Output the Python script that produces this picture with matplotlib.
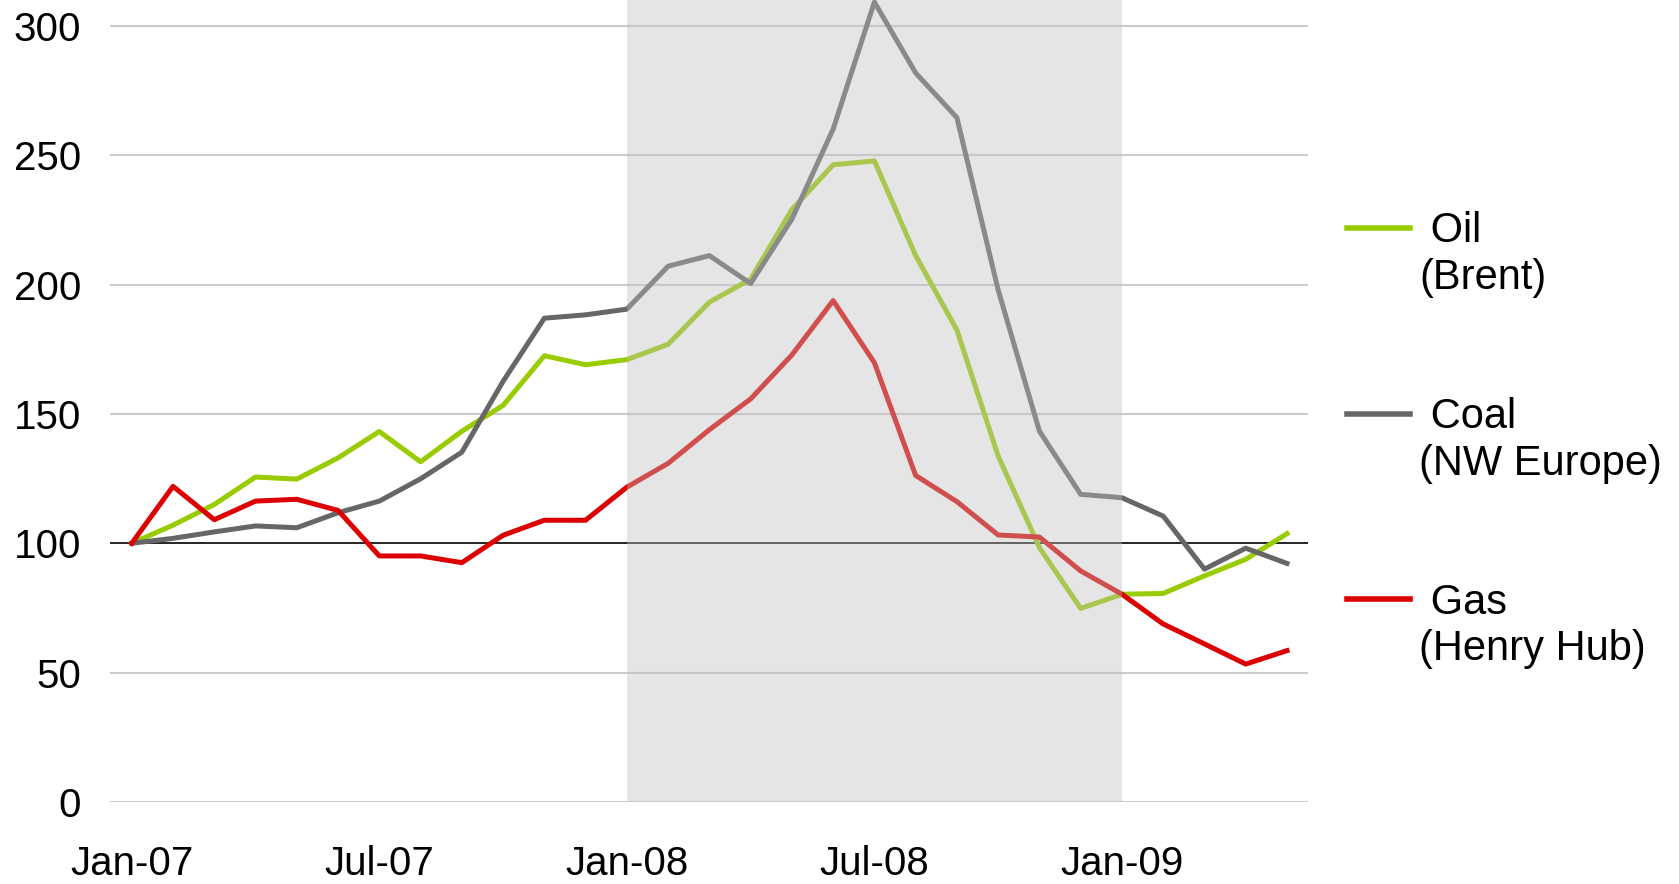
import matplotlib
matplotlib.use("Agg")
from matplotlib import pyplot as plt
from matplotlib.lines import Line2D

plt.rcParams['font.family'] = ['Liberation Sans', 'DejaVu Sans']

# mesi da Jan-07 a May-09 (indice 0..28)
mesi = list(range(29))
tick_pos = [0, 6, 12, 18, 24]
tick_labels = ['Jan-07', 'Jul-07', 'Jan-08', 'Jul-08', 'Jan-09']
y_ticks = [0, 50, 100, 150, 200, 250, 300]

# indici (Jan-07 = 100)
oil = [100, 107, 115, 125.6, 124.8, 133, 143.2, 131.5, 143.3, 153.3, 172.5, 169, 171,
       176.9, 193.2, 202.1, 229, 246.3, 247.8, 211.2, 182.4, 133.7, 98.3, 74.8,
       80.3, 80.6, 87.4, 93.8, 103.7]
coal = [100, 101.9, 104.4, 106.7, 106, 111.8, 116.3, 124.9, 135.2, 162.6, 187, 188.3, 190.5,
        207.1, 211.2, 200.4, 225.3, 260.1, 309.2, 281.8, 264.5, 197.9, 143.3, 118.9,
        117.6, 110.5, 90, 98.1, 92.2]
gas = [100, 122, 109.1, 116.3, 117, 112.7, 95.1, 95.1, 92.5, 103.1, 108.9, 108.9, 121.7,
       130.9, 143.9, 155.8, 172.8, 193.8, 169.8, 126.2, 116.1, 103.2, 102.4, 89.3,
       80.3, 68.8, 61.1, 53.3, 58.5]

# periodo evidenziato: Jan-08 .. Jan-09
crisi_inizio, crisi_fine = 12, 24

fig = plt.figure(figsize=(16.79, 8.84), dpi=100)
ax = fig.add_axes([0.0657, 0.0928, 0.7136, 0.9072])

ax.plot(mesi, oil, color='#99cc00', lw=3.6, zorder=3)
ax.plot(mesi, coal, color='#666666', lw=3.6, zorder=3)
ax.plot(mesi, gas, color='#dd0000', lw=3.6, zorder=3)

# ombreggiatura semi-trasparente sopra le linee
ax.axvspan(crisi_inizio, crisi_fine, color='#c0c0c0', alpha=0.41, lw=0, zorder=5)

for v in y_ticks:
    if v == 100:
        ax.axhline(v, color='black', lw=1.2, zorder=2)
    else:
        ax.axhline(v, color='#cccccc', lw=1.5, zorder=1)

ax.set_xlim(-0.52, 28.52)
ax.set_ylim(0, 310)
ax.set_xticks(tick_pos)
ax.set_xticklabels(tick_labels)
ax.set_yticks(y_ticks)
ax.tick_params(axis='both', length=0, labelsize=29)
ax.tick_params(axis='x', pad=31)
ax.tick_params(axis='y', pad=21)
for s in ax.spines.values():
    s.set_visible(False)

# legenda: nome + sottotitolo, con righe vuote tra i gruppi
vuoto = Line2D([], [], color='none')
handles = [Line2D([], [], color='#99cc00', lw=4), vuoto, vuoto, vuoto,
           Line2D([], [], color='#666666', lw=4), vuoto, vuoto, vuoto,
           Line2D([], [], color='#dd0000', lw=4), vuoto]
labels = [' Oil', '(Brent)', '', '',
          ' Coal', '(NW Europe)', '', '',
          ' Gas', '(Henry Hub)']
fig.legend(handles, labels, loc='upper left', bbox_to_anchor=(0.802, 0.761),
           frameon=False, fontsize=30, handlelength=1.53, handletextpad=0.22,
           labelspacing=0.155, borderpad=0, borderaxespad=0)

fig.savefig('out.png', dpi=100)
